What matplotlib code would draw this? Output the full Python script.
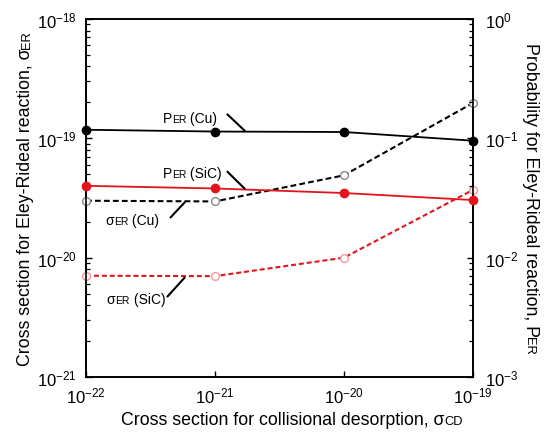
import math
import matplotlib
matplotlib.use("Agg")
import matplotlib.pyplot as plt
from matplotlib.transforms import IdentityTransform
from matplotlib.ticker import FixedLocator, LogLocator, NullFormatter, NullLocator

plt.rcParams["font.family"] = ["Liberation Sans", "DejaVu Sans"]
plt.rcParams["mathtext.fontset"] = "custom"
plt.rcParams["mathtext.rm"] = "Liberation Sans"
plt.rcParams["mathtext.it"] = "Liberation Sans:italic"
plt.rcParams["mathtext.default"] = "regular"

# Collisional desorption cross section (x axis)
sigma_cd = [1e-22, 1e-21, 1e-20, 1e-19]
# Eley-Rideal probability (right axis)
p_er_cu = [0.118, 0.114, 0.113, 0.0955]
p_er_sic = [0.040, 0.038, 0.0348, 0.0304]
# Eley-Rideal cross section (left axis)
sigma_er_cu = [3.0e-20, 2.96e-20, 4.9e-20, 1.98e-19]
sigma_er_sic = [7.06e-21, 7.0e-21, 1.0e-20, 3.7e-20]

# Decade ticks
x_ticks = [1e-22, 1e-21, 1e-20, 1e-19]
left_ticks = [1e-21, 1e-20, 1e-19, 1e-18]
right_ticks = [1e-3, 1e-2, 1e-1, 1e0]

RED = "#e3141c"
W, H = 546, 435

fig = plt.figure(figsize=(W / 100, H / 100), dpi=100)
ax = fig.add_axes([86 / W, 1 - 378 / H, 387 / W, 358 / H])
ax2 = ax.twinx()

for a in (ax, ax2):
    for sp in a.spines.values():
        sp.set_linewidth(1.2)

ax.set_xscale("log")
ax.set_yscale("log")
ax2.set_yscale("log")
ax.set_xlim(x_ticks[0], x_ticks[-1])
ax.set_ylim(left_ticks[0], left_ticks[-1])
ax2.set_ylim(right_ticks[0], right_ticks[-1])

ax.xaxis.set_major_locator(FixedLocator(x_ticks))
ax.xaxis.set_minor_locator(NullLocator())
ax.yaxis.set_major_locator(FixedLocator(left_ticks))
ax2.yaxis.set_major_locator(FixedLocator(right_ticks))
for a in (ax, ax2):
    a.yaxis.set_minor_locator(LogLocator(base=10, subs=range(2, 10), numticks=10))
    a.yaxis.set_minor_formatter(NullFormatter())

ax.tick_params(axis="x", which="major", direction="in", length=4.5, width=1.0,
               labelsize=12, pad=6, top=False)
ax.tick_params(axis="y", which="major", direction="in", length=4.5, width=1.0,
               labelsize=12, pad=6.5, right=False)
ax.tick_params(axis="y", which="minor", direction="in", length=3, width=0.9, right=False)
ax2.tick_params(axis="y", which="major", direction="in", length=4.5, width=1.0,
                labelsize=12, pad=8.5)
ax2.tick_params(axis="y", which="minor", direction="in", length=3, width=0.9)

# Cross sections: dashed lines with open circles
ax.plot(sigma_cd, sigma_er_cu, color="black", lw=1.5, dashes=(2.8, 1.5),
        marker="o", ms=5.6, mfc="white", mec="#8a8a8a", mew=1.0, clip_on=False, zorder=3)
ax.plot(sigma_cd, sigma_er_sic, color=RED, lw=1.5, dashes=(2.4, 1.4),
        marker="o", ms=5.6, mfc="white", mec="#f29a9a", mew=1.0, clip_on=False, zorder=3)

# Probabilities: solid lines with filled circles
ax2.plot(sigma_cd, p_er_cu, color="black", lw=1.3, marker="o", ms=6,
         mfc="black", mec="black", clip_on=False, zorder=4)
ax2.plot(sigma_cd, p_er_sic, color=RED, lw=1.3, marker="o", ms=6,
         mfc=RED, mec=RED, clip_on=False, zorder=4)

fig.canvas.draw()
renderer = fig.canvas.get_renderer()


def rich_text(runs, x, y, rotation=0):
    """Place text runs of mixed size along one baseline, centred on (x, y).

    runs: list of (string, fontsize); (x, y) in display pixels.
    """
    texts, lengths = [], []
    for s, size in runs:
        t = fig.text(0, 0, s, fontsize=size, ha="left", va="baseline",
                     rotation=rotation, rotation_mode="anchor",
                     transform=IdentityTransform())
        bb = t.get_window_extent(renderer)
        texts.append(t)
        lengths.append(bb.width if rotation == 0 else bb.height)
    total = sum(lengths)
    c, s_ = math.cos(math.radians(rotation)), math.sin(math.radians(rotation))
    pos = -total / 2
    for t, L in zip(texts, lengths):
        t.set_position((x + pos * c, y + pos * s_))
        pos += L


# Axis titles
TITLE, SMALL = 12.8, 9.3
rich_text([("Cross section for collisional desorption, σ", TITLE), ("CD", SMALL)],
          292, H - 425)
rich_text([("Cross section for Eley-Rideal reaction, σ", TITLE), ("ER", SMALL)],
          30, H - 198.5, rotation=90)
rich_text([("Probability for Eley-Rideal reaction, P", TITLE), ("ER", SMALL)],
          526, H - 199, rotation=-90)

# In-plot labels with leader lines (positions in axes fraction)
labels = [
    ([("P", 10), ("ER", 7.5), (" (Cu)", 10)], (0.269, 0.712),
     ((0.364, 0.735), (0.411, 0.687))),
    ([("P", 10), ("ER", 7.5), (" (SiC)", 10)], (0.274, 0.559),
     ((0.364, 0.575), (0.411, 0.525))),
    ([("σ", 10), ("ER", 7.5), (" (Cu)", 10)], (0.119, 0.427),
     ((0.217, 0.444), (0.256, 0.489))),
    ([("σ", 10), ("ER", 7.5), (" (SiC)", 10)], (0.129, 0.207),
     ((0.209, 0.223), (0.256, 0.279))),
]
for runs, (fx, fy), (p0, p1) in labels:
    px, py = ax.transAxes.transform((fx, fy))
    rich_text(runs, px, py)
    ax2.plot([p0[0], p1[0]], [p0[1], p1[1]], transform=ax.transAxes,
             color="black", lw=1.5, solid_capstyle="butt", zorder=5)

fig.savefig("out.png", dpi=100)
